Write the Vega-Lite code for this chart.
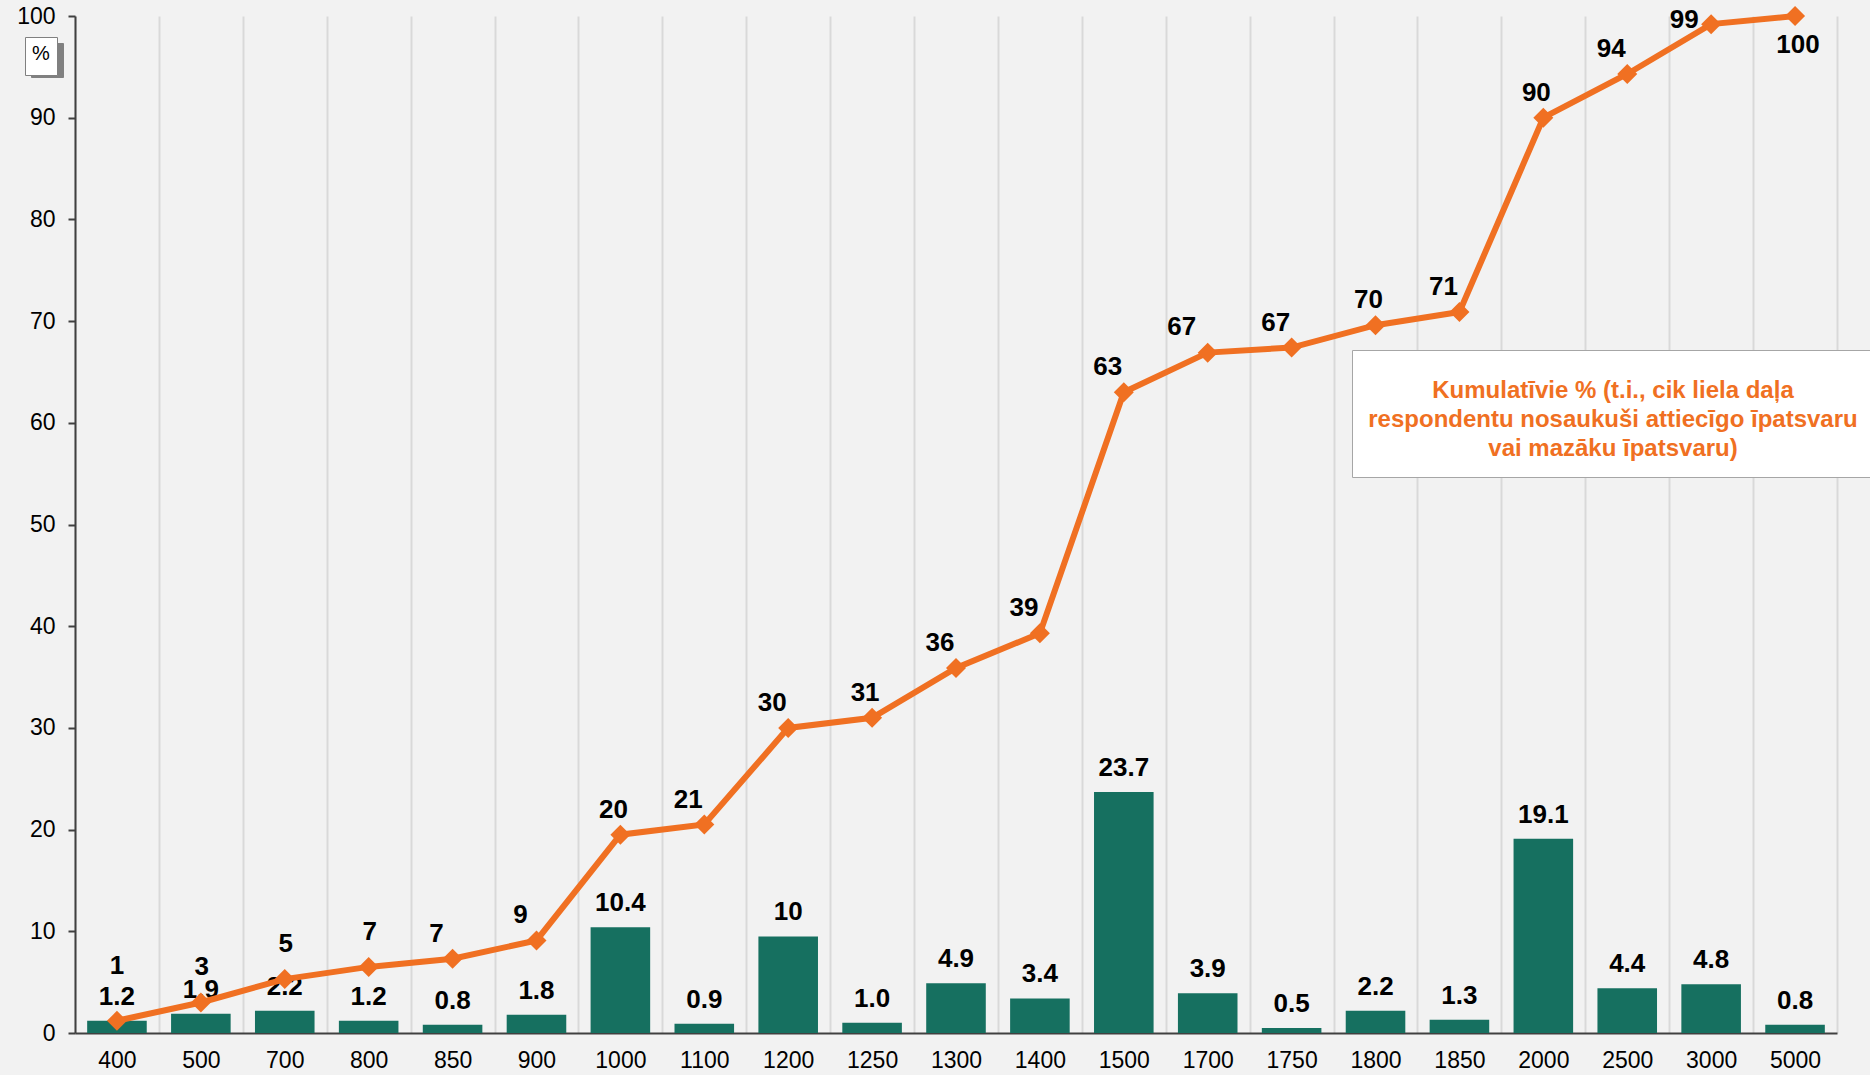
{
  "$schema": "https://vega.github.io/schema/vega-lite/v6.json",
  "width": 1762,
  "height": 1017,
  "autosize": {"type": "none"},
  "padding": {"left": 75, "top": 16, "right": 33, "bottom": 42},
  "background": "#F2F2F2",
  "data": {
    "values": [
      {"cat": "400", "pct": 1.2, "pctLabel": "1.2", "cum": 1.2, "cumLabel": "1"},
      {"cat": "500", "pct": 1.9, "pctLabel": "1.9", "cum": 3.0, "cumLabel": "3"},
      {"cat": "700", "pct": 2.2, "pctLabel": "2.2", "cum": 5.3, "cumLabel": "5"},
      {"cat": "800", "pct": 1.2, "pctLabel": "1.2", "cum": 6.5, "cumLabel": "7"},
      {"cat": "850", "pct": 0.8, "pctLabel": "0.8", "cum": 7.3, "cumLabel": "7"},
      {"cat": "900", "pct": 1.8, "pctLabel": "1.8", "cum": 9.1, "cumLabel": "9"},
      {"cat": "1000", "pct": 10.4, "pctLabel": "10.4", "cum": 19.5, "cumLabel": "20"},
      {"cat": "1100", "pct": 0.9, "pctLabel": "0.9", "cum": 20.5, "cumLabel": "21"},
      {"cat": "1200", "pct": 9.5, "pctLabel": "10", "cum": 30.0, "cumLabel": "30"},
      {"cat": "1250", "pct": 1.0, "pctLabel": "1.0", "cum": 31.0, "cumLabel": "31"},
      {"cat": "1300", "pct": 4.9, "pctLabel": "4.9", "cum": 35.9, "cumLabel": "36"},
      {"cat": "1400", "pct": 3.4, "pctLabel": "3.4", "cum": 39.3, "cumLabel": "39"},
      {"cat": "1500", "pct": 23.7, "pctLabel": "23.7", "cum": 63.0, "cumLabel": "63"},
      {"cat": "1700", "pct": 3.9, "pctLabel": "3.9", "cum": 66.9, "cumLabel": "67"},
      {"cat": "1750", "pct": 0.5, "pctLabel": "0.5", "cum": 67.4, "cumLabel": "67"},
      {"cat": "1800", "pct": 2.2, "pctLabel": "2.2", "cum": 69.6, "cumLabel": "70"},
      {"cat": "1850", "pct": 1.3, "pctLabel": "1.3", "cum": 70.9, "cumLabel": "71"},
      {"cat": "2000", "pct": 19.1, "pctLabel": "19.1", "cum": 90.0, "cumLabel": "90"},
      {"cat": "2500", "pct": 4.4, "pctLabel": "4.4", "cum": 94.3, "cumLabel": "94"},
      {"cat": "3000", "pct": 4.8, "pctLabel": "4.8", "cum": 99.2, "cumLabel": "99"},
      {"cat": "5000", "pct": 0.8, "pctLabel": "0.8", "cum": 100, "cumLabel": "100"}
    ]
  },
  "encoding": {
    "x": {
      "field": "cat",
      "type": "ordinal",
      "sort": null,
      "scale": {"paddingInner": 0, "paddingOuter": 0},
      "axis": {
        "title": null,
        "labelAngle": 0,
        "labelFontSize": 23,
        "labelColor": "#000000",
        "labelPadding": 16,
        "ticks": false,
        "tickSize": 0,
        "tickBand": "extent",
        "grid": true,
        "gridColor": "#D9D9D9",
        "gridWidth": 2,
        "domainColor": "#404040",
        "domainWidth": 2
      }
    }
  },
  "layer": [
    {
      "mark": {"type": "bar", "width": {"band": 0.71}},
      "encoding": {
        "y": {
          "field": "pct",
          "type": "quantitative",
          "title": null,
          "scale": {"domain": [0, 100]},
          "axis": {
            "title": null,
            "values": [0, 10, 20, 30, 40, 50, 60, 70, 80, 90, 100],
            "grid": false,
            "labelFontSize": 23,
            "labelColor": "#000000",
            "labelPadding": 13,
            "ticks": true,
            "tickSize": 7,
            "tickColor": "#404040",
            "tickWidth": 2,
            "domain": true,
            "domainColor": "#404040",
            "domainWidth": 2
          }
        },
        "fill": {
          "datum": "%",
          "scale": {"range": ["#167060"]},
          "legend": {
            "orient": "none",
            "legendX": -50,
            "legendY": 21,
            "zindex": 2,
            "title": "%",
            "titleFontSize": 20,
            "titleFontWeight": "normal",
            "titleColor": "#000000",
            "titlePadding": 3,
            "fillColor": "#FFFFFF",
            "strokeColor": "#808080",
            "padding": 7,
            "symbolOpacity": 0,
            "symbolSize": 0,
            "labelOpacity": 0,
            "labelFontSize": 1,
            "rowPadding": 0
          }
        },
        "strokeDash": {
          "datum": "shadow",
          "scale": {"range": [[1, 0]]},
          "legend": {
            "orient": "none",
            "legendX": -44,
            "legendY": 27,
            "zindex": 1,
            "title": null,
            "fillColor": "#808080",
            "strokeColor": "#808080",
            "padding": 6,
            "symbolType": "M-1,-1.15L1,-1.15L1,1.15L-1,1.15Z",
            "symbolSize": 400,
            "symbolOpacity": 0,
            "symbolStrokeWidth": 0,
            "labelExpr": "''",
            "labelOffset": 0,
            "labelFontSize": 1,
            "rowPadding": 0
          }
        }
      }
    },
    {
      "mark": {"type": "text", "fontSize": 26, "fontWeight": "bold", "color": "#000000", "baseline": "middle", "dy": -24},
      "encoding": {
        "y": {"field": "pct", "type": "quantitative", "title": null},
        "text": {"field": "pctLabel"}
      }
    },
    {
      "mark": {"type": "line", "strokeWidth": 6, "point": {"shape": "diamond", "size": 400, "filled": true}},
      "encoding": {
        "y": {"field": "cum", "type": "quantitative", "title": null},
        "color": {
          "datum": "Kumulatīvie %",
          "scale": {"range": ["#F07022"]},
          "legend": {
            "orient": "none",
            "legendX": 1277,
            "legendY": 334,
            "zindex": 3,
            "title": ["Kumulatīvie % (t.i., cik liela daļa", "respondentu nosaukuši attiecīgo īpatsvaru", "vai mazāku īpatsvaru)"],
            "titleOrient": "bottom",
            "titleColor": "#F07022",
            "titleFontSize": 24,
            "titleFontWeight": "bold",
            "titleAlign": "center",
            "titleAnchor": "middle",
            "titleLimit": 1000,
            "titleLineHeight": 29,
            "titlePadding": 12,
            "fillColor": "#FFFFFF",
            "strokeColor": "#A6A6A6",
            "padding": 16,
            "symbolOpacity": 0,
            "symbolSize": 0,
            "labelOpacity": 0,
            "labelFontSize": 1,
            "rowPadding": 0
          }
        }
      }
    },
    {
      "transform": [{"filter": "indexof(['500','700','800'], datum.cat) >= 0"}],
      "mark": {"type": "text", "fontSize": 26, "fontWeight": "bold", "color": "#000000", "baseline": "middle", "dx": 1, "dy": -35},
      "encoding": {
        "y": {"field": "cum", "type": "quantitative", "title": null},
        "text": {"field": "cumLabel"}
      }
    },
    {
      "transform": [{"filter": "indexof(['1000','1250','1800','2000'], datum.cat) >= 0"}],
      "mark": {"type": "text", "fontSize": 26, "fontWeight": "bold", "color": "#000000", "baseline": "middle", "dx": -7, "dy": -25},
      "encoding": {
        "y": {"field": "cum", "type": "quantitative", "title": null},
        "text": {"field": "cumLabel"}
      }
    },
    {
      "transform": [{"filter": "indexof(['850','900','1100','1200','1300','1400','1500','1750','1850','2500'], datum.cat) >= 0"}],
      "mark": {"type": "text", "fontSize": 26, "fontWeight": "bold", "color": "#000000", "baseline": "middle", "dx": -16, "dy": -25},
      "encoding": {
        "y": {"field": "cum", "type": "quantitative", "title": null},
        "text": {"field": "cumLabel"}
      }
    },
    {
      "transform": [{"filter": "datum.cat === '1700'"}],
      "mark": {"type": "text", "fontSize": 26, "fontWeight": "bold", "color": "#000000", "baseline": "middle", "dx": -26, "dy": -26},
      "encoding": {
        "y": {"field": "cum", "type": "quantitative", "title": null},
        "text": {"field": "cumLabel"}
      }
    },
    {
      "transform": [{"filter": "datum.cat === '400'"}],
      "mark": {"type": "text", "fontSize": 26, "fontWeight": "bold", "color": "#000000", "baseline": "middle", "dy": -55},
      "encoding": {
        "y": {"field": "cum", "type": "quantitative", "title": null},
        "text": {"field": "cumLabel"}
      }
    },
    {
      "transform": [{"filter": "datum.cat === '3000'"}],
      "mark": {"type": "text", "fontSize": 26, "fontWeight": "bold", "color": "#000000", "baseline": "middle", "dx": -27, "dy": -4},
      "encoding": {
        "y": {"field": "cum", "type": "quantitative", "title": null},
        "text": {"field": "cumLabel"}
      }
    },
    {
      "transform": [{"filter": "datum.cat === '5000'"}],
      "mark": {"type": "text", "fontSize": 26, "fontWeight": "bold", "color": "#000000", "baseline": "middle", "dx": 3, "dy": 29},
      "encoding": {
        "y": {"field": "cum", "type": "quantitative", "title": null},
        "text": {"field": "cumLabel"}
      }
    }
  ],
  "config": {
    "font": "Liberation Sans",
    "view": {"stroke": null},
    "axis": {"labelFont": "Liberation Sans"},
    "legend": {"titleFont": "Liberation Sans", "labelFont": "Liberation Sans"}
  }
}
